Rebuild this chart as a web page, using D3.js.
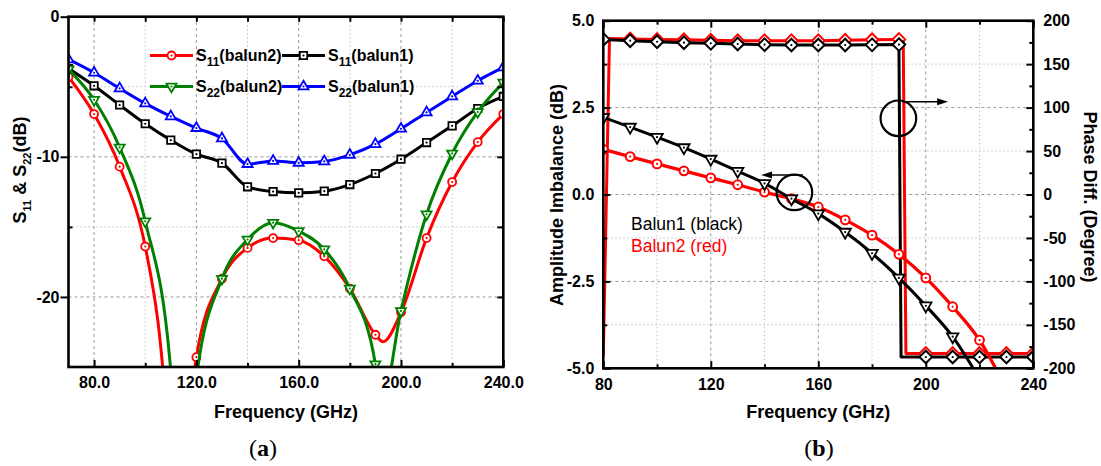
<!DOCTYPE html>
<html>
<head>
<meta charset="utf-8">
<script src="https://cdn.jsdelivr.net/npm/d3@7"></script>
<style>
  body { margin: 0; background: #fff; }
  svg { display: block; }
</style>
</head>
<body>
<svg id="fig" width="1101" height="466"></svg>
<script>
// ---------- data, panel (a): S11 / S22 in dB ----------
const freqA = [70, 80, 90, 100, 110, 120, 130, 140, 150, 160, 170, 180, 190, 200, 210, 220, 230, 240]
const s11Balun1 = [-3.7, -4.93, -6.3, -7.64, -8.81, -9.81, -10.45, -12.14, -12.48, -12.57, -12.45, -11.98, -11.19, -10.17, -8.98, -7.79, -6.55, -5.69]
const s22Balun1 = [-3.05, -4.0, -5.12, -6.19, -7.12, -7.95, -8.69, -10.52, -10.29, -10.43, -10.33, -9.86, -9.1, -8.0, -6.83, -5.69, -4.57, -3.62]
// balun2 curves have deep nulls, extra readings where the curve leaves the frame
const freqS11Balun2 = [70, 80, 90, 100, 105, 110, 115, 118, 120, 130, 140, 150, 160, 170, 180, 190, 193, 200, 210, 220, 230, 240]
const s11Balun2 = [-4.3, -6.95, -10.7, -16.4, -21.8, -31, -38, -27.5, -24.3, -18.7, -16.5, -15.8, -15.95, -17.1, -19.4, -22.7, -23.2, -21.1, -15.8, -11.8, -8.95, -6.95]
const freqS22Balun2 = [70, 80, 90, 100, 110, 115, 120, 130, 140, 150, 160, 170, 180, 190, 192, 200, 210, 220, 230, 240]
const s22Balun2 = [-3.75, -5.93, -9.33, -14.6, -25.3, -40, -25.8, -18.7, -15.9, -14.7, -15.3, -16.6, -19.4, -24.8, -28, -21.0, -14.1, -9.76, -6.8, -4.7]
const xTicksA = [80, 120, 160, 200, 240]
const xMinorA = [100, 140, 180, 220]
const yTicksA = [0, -10, -20]
const yMinorA = [-5, -15]

// ---------- data, panel (b): amplitude imbalance and phase ----------
const freqB = [80, 90, 100, 110, 120, 130, 140, 150, 160, 170, 180, 190, 200, 210, 220, 230, 240]
const ampBalun1 = [2.22, 1.94, 1.65, 1.35, 1.02, 0.67, 0.32, -0.12, -0.55, -1.08, -1.69, -2.4, -3.2, -4.09, -5.3, -6.6, -8.0]
const ampBalun2 = [1.3, 1.09, 0.88, 0.68, 0.48, 0.28, 0.07, -0.12, -0.36, -0.73, -1.17, -1.72, -2.4, -3.23, -4.19, -5.6, -7.2]
const freqPhase1 = [80, 90, 100, 110, 120, 130, 140, 150, 160, 170, 180, 190, 190.8, 200, 210, 220, 230, 240]
const phaseBalun1 = [178.5, 177, 175.8, 174.7, 174, 173.2, 172.4, 172, 172, 172, 172.2, 172.5, -187, -187, -187, -187, -187, -187]
const freqPhase2 = [80, 82.3, 90, 100, 110, 120, 130, 140, 150, 160, 170, 180, 190, 191.6, 192.6, 200, 210, 220, 230, 240]
const phaseBalun2 = [-186, 179.5, 179, 178.5, 178, 177.5, 177, 177, 177, 177, 177.5, 178, 178.5, 178.5, -183, -183, -183, -183, -183, -183]
const xTicksB = [80, 120, 160, 200, 240]
const xMinorB = [100, 140, 180, 220]
const ampTicks = [5, 2.5, 0, -2.5, -5]
const ampMinor = [3.75, 1.25, -1.25, -3.75]
const phaseTicks = [200, 150, 100, 50, 0, -50, -100, -150, -200]
const phaseMinor = [175, 125, 75, 25, -25, -75, -125, -175]

const FONT = '"Liberation Sans", Arial, Helvetica, sans-serif'
const svg = d3.select("#fig")

const markerPath = {
  circle: r => `M${r},0A${r},${r} 0 1,1 ${-r},0A${r},${r} 0 1,1 ${r},0Z`,
  square: r => `M${-r},${-r}H${r}V${r}H${-r}Z`,
  up: r => `M0,${-r}L${r * 0.866},${r / 2}L${-r * 0.866},${r / 2}Z`,
  down: r => `M0,${r}L${r * 0.866},${-r / 2}L${-r * 0.866},${-r / 2}Z`,
  diamond: r => `M0,${-r}L${r},0L0,${r}L${-r},0Z`
}
const everyTen = d => Math.abs(d.f % 10) < 1e-9

function drawMarker(g, type, size, color, sw) {
  g.append("path").attr("d", markerPath[type](size))
    .attr("fill", "#fff").attr("stroke", color).attr("stroke-width", sw)
  g.append("circle").attr("r", 1.1).attr("fill", color)
}

function drawSeries(g, xs, ys, s) {
  const pts = s.freq.map((f, i) => ({ f: f, v: s.vals[i] }))
  const line = d3.line().curve(s.curve || d3.curveMonotoneX)
    .x(d => xs(d.f)).y(d => ys(d.v))
  g.append("path").datum(pts).attr("d", line)
    .attr("fill", "none").attr("stroke", s.color).attr("stroke-width", s.lw || 3)
    .attr("stroke-linejoin", "round")
  const keep = s.markAt || everyTen
  g.selectAll(null).data(pts.filter(keep)).join("g")
    .attr("transform", d => `translate(${xs(d.f)},${ys(d.v)})`)
    .each(function() { drawMarker(d3.select(this), s.marker, s.size, s.color, s.msw || 1.8) })
}

function styleAxis(g, fmt) {
  g.select(".domain").remove()
  g.attr("font-family", FONT).attr("font-size", 16).attr("font-weight", "bold")
  g.selectAll("line").attr("stroke", "#000").attr("stroke-width", 2)
  g.selectAll("text").attr("fill", "#000")
}

function grid(g, xs, ys, vx, vy, major) {
  const dash = major ? "3,3" : "1.5,2.5"
  const col = major ? "#9a9a9a" : "#c4c4c4"
  g.selectAll(null).data(vx).join("line")
    .attr("x1", d => xs(d)).attr("x2", d => xs(d))
    .attr("y1", ys.range()[0]).attr("y2", ys.range()[1])
    .attr("stroke", col).attr("stroke-dasharray", dash).attr("stroke-width", 1)
  g.selectAll(null).data(vy).join("line")
    .attr("y1", d => ys(d)).attr("y2", d => ys(d))
    .attr("x1", xs.range()[0]).attr("x2", xs.range()[1])
    .attr("stroke", col).attr("stroke-dasharray", dash).attr("stroke-width", 1)
}

function subText(t, parts, size, subSize) {
  // parts: [text, isSub]
  let shifted = false
  parts.forEach(p => {
    const ts = t.append("tspan").text(p[0])
    if (p[1] && !shifted) { ts.attr("font-size", subSize).attr("dy", size * 0.32); shifted = true }
    else if (!p[1] && shifted) { ts.attr("dy", -size * 0.32); shifted = false }
  })
}

const defs = svg.append("defs")

// =============== panel (a) ===============
const xA = d3.scaleLinear().domain([70, 240]).range([68.5, 503.3])
const yA = d3.scaleLinear().domain([-25, 0]).range([367, 16.7])
defs.append("clipPath").attr("id", "clipA").append("rect")
  .attr("x", 68.5).attr("y", 16.7).attr("width", 503.3 - 68.5).attr("height", 367 - 16.7)

const gA = svg.append("g")
grid(gA, xA, yA, xMinorA, yMinorA, false)
grid(gA, xA, yA, xTicksA.slice(0, -1), yTicksA.slice(1), true)

const seriesA = [
  { freq: freqS11Balun2, vals: s11Balun2, color: "#ff0000", marker: "circle", size: 4, label: [["S"], ["11", 1], ["(balun2)"]] },
  { freq: freqA, vals: s11Balun1, color: "#000000", marker: "square", size: 3.7, label: [["S"], ["11", 1], ["(balun1)"]] },
  { freq: freqS22Balun2, vals: s22Balun2, color: "#008000", marker: "down", size: 5.8, label: [["S"], ["22", 1], ["(balun2)"]] },
  { freq: freqA, vals: s22Balun1, color: "#0000ff", marker: "up", size: 5.8, label: [["S"], ["22", 1], ["(balun1)"]] }
]
const plotA = gA.append("g").attr("clip-path", "url(#clipA)")
seriesA.forEach(s => drawSeries(plotA, xA, yA, s))

// axes (a)
styleAxis(gA.append("g").attr("transform", "translate(0,367)")
  .call(d3.axisBottom(xA).tickValues(xTicksA).tickSizeInner(-7).tickSizeOuter(0).tickPadding(10).tickFormat(d => d.toFixed(1))))
styleAxis(gA.append("g").attr("transform", "translate(0,367)")
  .call(d3.axisBottom(xA).tickValues(xMinorA).tickSizeInner(-4).tickSizeOuter(0).tickFormat("")))
styleAxis(gA.append("g").attr("transform", "translate(0,16.7)")
  .call(d3.axisTop(xA).tickValues(xTicksA.concat(xMinorA)).tickSizeInner(-5).tickSizeOuter(0).tickFormat("")))
styleAxis(gA.append("g").attr("transform", "translate(68.5,0)")
  .call(d3.axisLeft(yA).tickValues(yTicksA).tickSizeInner(8).tickSizeOuter(0).tickPadding(1).tickFormat(d => String(d))))
styleAxis(gA.append("g").attr("transform", "translate(68.5,0)")
  .call(d3.axisLeft(yA).tickValues(yMinorA).tickSizeInner(-4).tickSizeOuter(0).tickFormat("")))
styleAxis(gA.append("g").attr("transform", "translate(503.3,0)")
  .call(d3.axisRight(yA).tickValues(yTicksA.concat(yMinorA)).tickSizeInner(-6).tickSizeOuter(0).tickFormat("")))
gA.append("rect").attr("x", 68.5).attr("y", 16.7).attr("width", 503.3 - 68.5).attr("height", 367 - 16.7)
  .attr("fill", "none").attr("stroke", "#000").attr("stroke-width", 2.6)

// legend (a)
const legPos = [[150, 55.5], [282, 55.5], [150, 86.5], [282, 86.5]]
seriesA.forEach((s, i) => {
  const [lx, ly] = legPos[i]
  const lg = gA.append("g").attr("transform", `translate(${lx},${ly})`)
  lg.append("line").attr("x1", 0).attr("x2", 43).attr("stroke", s.color).attr("stroke-width", 3)
  drawMarker(lg.append("g").attr("transform", "translate(21.5,0)"), s.marker, s.size, s.color, 1.8)
  const t = lg.append("text").attr("x", 46).attr("y", 5.6)
    .attr("font-family", FONT).attr("font-size", 16).attr("font-weight", "bold")
  subText(t, s.label, 16, 12)
})

// axis titles (a)
gA.append("text").attr("x", 286).attr("y", 418).attr("text-anchor", "middle")
  .attr("font-family", FONT).attr("font-size", 18).attr("font-weight", "bold").text("Frequency (GHz)")
const ylabA = gA.append("text").attr("transform", "translate(25.5,170) rotate(-90)").attr("text-anchor", "middle")
  .attr("font-family", FONT).attr("font-size", 18).attr("font-weight", "bold")
subText(ylabA, [["S"], ["11", 1], [" & S"], ["22", 1], ["(dB)"]], 18, 11)

// =============== panel (b) ===============
const xB = d3.scaleLinear().domain([80, 240]).range([603.3, 1033.3])
const yAmp = d3.scaleLinear().domain([-5, 5]).range([368.3, 20.7])
const yPh = d3.scaleLinear().domain([-200, 200]).range([368.3, 20.7])
defs.append("clipPath").attr("id", "clipB").append("rect")
  .attr("x", 603.3).attr("y", 20.7).attr("width", 1033.3 - 603.3).attr("height", 368.3 - 20.7)

const gB = svg.append("g")
grid(gB, xB, yPh, xMinorB, phaseMinor.filter((d, i) => i % 2 === 1 ? false : false).concat([150, 50, -50, -150]), false)
grid(gB, xB, yPh, [120, 160, 200], [100, 0, -100], true)

const plotB = gB.append("g").attr("clip-path", "url(#clipB)")
// phase difference (right axis)
drawSeries(plotB, xB, yPh, { freq: freqPhase2, vals: phaseBalun2, color: "#ff0000", marker: "diamond", size: 6.3, msw: 2, curve: d3.curveLinear, markAt: d => everyTen(d) && d.f > 80 })
drawSeries(plotB, xB, yPh, { freq: freqPhase1, vals: phaseBalun1, color: "#000000", marker: "diamond", size: 6.3, msw: 2, curve: d3.curveLinear })
// amplitude imbalance (left axis)
drawSeries(plotB, xB, yAmp, { freq: freqB, vals: ampBalun2, color: "#ff0000", marker: "circle", size: 4.4, msw: 2, lw: 3.3 })
drawSeries(plotB, xB, yAmp, { freq: freqB, vals: ampBalun1, color: "#000000", marker: "down", size: 6.6, msw: 1.8 })

// axes (b)
styleAxis(gB.append("g").attr("transform", "translate(0,368.3)")
  .call(d3.axisBottom(xB).tickValues(xTicksB).tickSizeInner(-7).tickSizeOuter(0).tickPadding(10).tickFormat(d => String(d))))
styleAxis(gB.append("g").attr("transform", "translate(0,368.3)")
  .call(d3.axisBottom(xB).tickValues(xMinorB).tickSizeInner(-4).tickSizeOuter(0).tickFormat("")))
styleAxis(gB.append("g").attr("transform", "translate(0,20.7)")
  .call(d3.axisTop(xB).tickValues(xTicksB).tickSizeInner(-7).tickSizeOuter(0).tickFormat("")))
styleAxis(gB.append("g").attr("transform", "translate(0,20.7)")
  .call(d3.axisTop(xB).tickValues(xMinorB).tickSizeInner(-4).tickSizeOuter(0).tickFormat("")))
styleAxis(gB.append("g").attr("transform", "translate(603.3,0)")
  .call(d3.axisLeft(yAmp).tickValues(ampTicks).tickSizeInner(-7).tickSizeOuter(0).tickPadding(9).tickFormat(d => d.toFixed(1))))
styleAxis(gB.append("g").attr("transform", "translate(603.3,0)")
  .call(d3.axisLeft(yAmp).tickValues(ampMinor).tickSizeInner(-4).tickSizeOuter(0).tickFormat("")))
styleAxis(gB.append("g").attr("transform", "translate(1033.3,0)")
  .call(d3.axisRight(yPh).tickValues(phaseTicks).tickSizeInner(-7).tickSizeOuter(0).tickPadding(10).tickFormat(d => String(d))))
styleAxis(gB.append("g").attr("transform", "translate(1033.3,0)")
  .call(d3.axisRight(yPh).tickValues(phaseMinor).tickSizeInner(-4).tickSizeOuter(0).tickFormat("")))
gB.append("rect").attr("x", 603.3).attr("y", 20.7).attr("width", 1033.3 - 603.3).attr("height", 368.3 - 20.7)
  .attr("fill", "none").attr("stroke", "#000").attr("stroke-width", 2.6)

// annotation circles + arrows (b)
const annotPhase = { f: 189.8, v: 87.7, arrowFrom: 191.5, arrowTo: 208.3, arrowV: 106.8 }
const annotAmp = { f: 151.1, v: 0.06, arrowFrom: 154.3, arrowTo: 138.7, arrowV: 0.56 }
function annot(a, ys) {
  gB.append("circle").attr("cx", xB(a.f)).attr("cy", ys(a.v)).attr("r", 17.8)
    .attr("fill", "none").attr("stroke", "#000").attr("stroke-width", 2.2)
  const x0 = xB(a.arrowFrom), x1 = xB(a.arrowTo), y = ys(a.arrowV)
  const dir = Math.sign(x1 - x0)
  gB.append("line").attr("x1", x0).attr("x2", x1 - dir * 8).attr("y1", y).attr("y2", y)
    .attr("stroke", "#000").attr("stroke-width", 1.6)
  gB.append("path").attr("d", `M${x1},${y}L${x1 - dir * 11},${y - 3.5}L${x1 - dir * 11},${y + 3.5}Z`).attr("fill", "#000")
}
annot(annotPhase, yPh)
annot(annotAmp, yAmp)

// legend text (b)
gB.append("text").attr("x", 631).attr("y", 230).attr("font-family", FONT).attr("font-size", 17.5)
  .attr("fill", "#000").text("Balun1 (black)")
gB.append("text").attr("x", 631).attr("y", 252).attr("font-family", FONT).attr("font-size", 17.5)
  .attr("fill", "#ff0000").text("Balun2 (red)")

// axis titles (b)
gB.append("text").attr("x", 818.3).attr("y", 418).attr("text-anchor", "middle")
  .attr("font-family", FONT).attr("font-size", 18).attr("font-weight", "bold").text("Frequency (GHz)")
gB.append("text").attr("transform", "translate(563,195) rotate(-90)").attr("text-anchor", "middle")
  .attr("font-family", FONT).attr("font-size", 18).attr("font-weight", "bold").text("Amplitude Imbalance (dB)")
gB.append("text").attr("transform", "translate(1083.5,197) rotate(90)").attr("text-anchor", "middle")
  .attr("font-family", FONT).attr("font-size", 18).attr("font-weight", "bold").text("Phase Diff. (Degree)")

// sub-figure captions
function caption(x, letter) {
  const t = svg.append("text").attr("x", x).attr("y", 456).attr("text-anchor", "middle")
    .attr("font-family", '"Liberation Serif", "Times New Roman", serif').attr("font-size", 24)
  t.append("tspan").text("(")
  t.append("tspan").attr("font-weight", "bold").text(letter)
  t.append("tspan").text(")")
}
caption(263, "a")
caption(819, "b")
</script>
</body>
</html>
